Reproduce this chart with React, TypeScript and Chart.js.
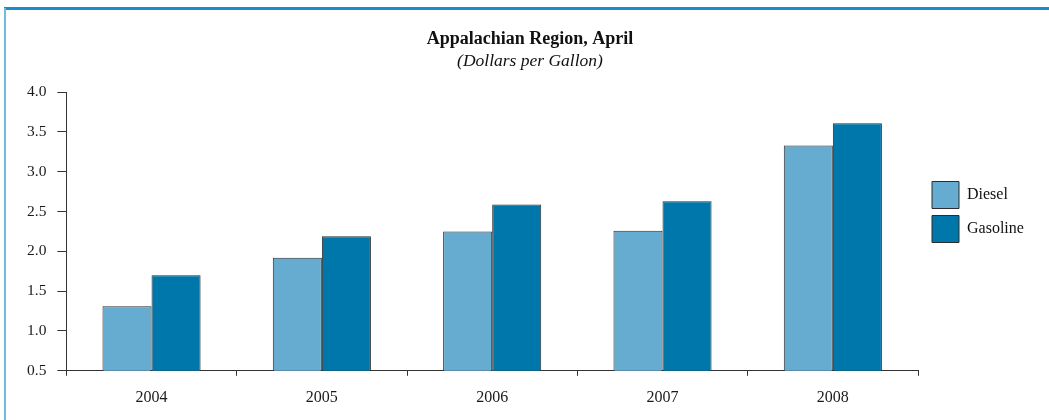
import React, { useEffect, useRef } from "react";
import { Chart, registerables } from "chart.js";

Chart.register(...registerables);

const categories = ["2004", "2005", "2006", "2007", "2008"];
const dieselValues = [1.31, 1.92, 2.25, 2.26, 3.33];
const gasolineValues = [1.7, 2.19, 2.59, 2.63, 3.61];
const seriesNames = ["Diesel", "Gasoline"];
const titleText = "Appalachian Region, April";
const subtitleText = "(Dollars per Gallon)";

const FONT = "'Liberation Serif', 'DejaVu Serif', serif";

const LEGEND_WIDTH = 126;
const LEGEND_SHIFT_X = 7;
const LEGEND_SHIFT_Y = 2;

const legendTweak = {
  id: "legendTweak",
  beforeLayout(chart: any) {
    const lg = chart.legend;
    if (lg && !lg.__patched) {
      const orig = lg.fit.bind(lg);
      lg.fit = function () {
        orig();
        this.width = LEGEND_WIDTH;
      };
      lg.__patched = true;
    }
  },
  afterLayout(chart: any) {
    const lg = chart.legend;
    if (lg) {
      lg.left += LEGEND_SHIFT_X;
      lg.right += LEGEND_SHIFT_X;
      lg.top += LEGEND_SHIFT_Y;
      lg.bottom += LEGEND_SHIFT_Y;
    }
  },
};

export default function App() {
  const canvasRef = useRef<HTMLCanvasElement | null>(null);

  useEffect(() => {
    if (!canvasRef.current) return;
    const chart = new Chart(canvasRef.current, {
      type: "bar",
      data: {
        labels: categories,
        datasets: [
          {
            label: seriesNames[0],
            data: dieselValues,
            backgroundColor: "#65acd0",
            borderColor: "#2c2c2c",
            borderWidth: 1,
            barPercentage: 1,
            categoryPercentage: 0.576,
          },
          {
            label: seriesNames[1],
            data: gasolineValues,
            backgroundColor: "#0077aa",
            borderColor: "#2c2c2c",
            borderWidth: 1,
            barPercentage: 1,
            categoryPercentage: 0.576,
          },
        ],
      },
      plugins: [legendTweak],
      options: {
        responsive: false,
        animation: false,
        devicePixelRatio: 1,
        layout: { padding: { left: 16, right: 5, top: 0, bottom: 0 } },
        font: { family: FONT },
        plugins: {
          title: {
            display: true,
            text: titleText,
            color: "#111",
            font: { family: FONT, size: 18, weight: "bold" },
            padding: { top: 29, bottom: 0 },
          },
          subtitle: {
            display: true,
            text: subtitleText,
            color: "#111",
            font: { family: FONT, size: 17.5, style: "italic" },
            padding: { top: 0.5, bottom: 20 },
          },
          legend: {
            display: true,
            position: "right",
            align: "center",
            labels: {
              boxWidth: 27,
              boxHeight: 27,
              padding: 7,
              color: "#111",
              font: { family: FONT, size: 16 },
            },
          },
          tooltip: { enabled: false },
        },
        scales: {
          x: {
            grid: {
              display: true,
              drawOnChartArea: false,
              drawTicks: true,
              tickLength: 5,
              color: "#333",
              offset: true,
            },
            border: { display: true, color: "#333", width: 1 },
            ticks: {
              color: "#1a1a1a",
              font: { family: FONT, size: 16 },
              padding: 12.5,
              maxRotation: 0,
            },
          },
          y: {
            min: 0.5,
            max: 4.0,
            grid: {
              display: true,
              drawOnChartArea: false,
              drawTicks: true,
              tickLength: 9,
              color: "#333",
            },
            border: { display: true, color: "#333", width: 1 },
            ticks: {
              stepSize: 0.5,
              color: "#1a1a1a",
              font: { family: FONT, size: 15.5 },
              padding: 11,
              callback: (v: any) => Number(v).toFixed(1),
            },
          },
        },
      },
    });
    return () => chart.destroy();
  }, []);

  return (
    <div style={{ position: "absolute", left: 0, top: 0, width: 1049, height: 420, background: "#fff" }}>
      <div style={{ position: "absolute", left: 4, top: 7, width: 1045, height: 3, background: "#1b8bc9" }} />
      <div style={{ position: "absolute", left: 4, top: 8, width: 2, height: 412, background: "#6cbde0" }} />
      <canvas ref={canvasRef} width={1049} height={420} style={{ position: "absolute", left: 0, top: 0 }} />
    </div>
  );
}
